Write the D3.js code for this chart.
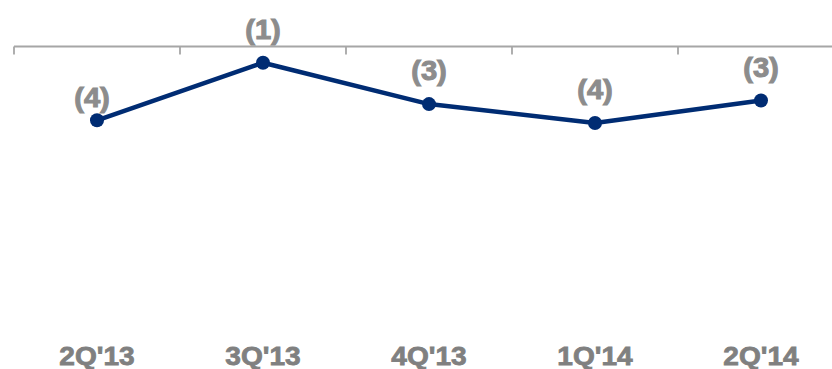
<!DOCTYPE html>
<html>
<head>
<meta charset="utf-8">
<script src="https://cdn.jsdelivr.net/npm/d3@7"></script>
<style>
  body { margin: 0; background: #fff; }
  svg { display: block; }
</style>
</head>
<body>
<div id="chart"></div>
<script>
var width = 832,
    height = 369;

// quarters and values
var quarters = ["2Q'13", "3Q'13", "4Q'13", "1Q'14", "2Q'14"];
var values = [-4.1, -0.9, -3.2, -4.25, -3.0];

var svg = d3.select("#chart")
    .append("svg")
    .attr("width", width)
    .attr("height", height);

var x = d3.scaleBand()
    .domain(quarters)
    .range([14, 14 + 166 * quarters.length])
    .padding(0);

var y = d3.scaleLinear()
    .domain([0, -15])
    .range([46.5, 316.5]);

function labelFormat(d) {
  var r = Math.round(d);
  return r < 0 ? "(" + (-r) + ")" : "" + r;
}

// axis line at zero, ticks between quarters
svg.append("line")
    .attr("x1", x.range()[0])
    .attr("x2", width)
    .attr("y1", y(0))
    .attr("y2", y(0))
    .attr("stroke", "#a6a6a6")
    .attr("stroke-width", 1.8);

svg.selectAll(".tick")
    .data(quarters)
    .enter().append("line")
    .attr("class", "tick")
    .attr("x1", function(d) { return x(d); })
    .attr("x2", function(d) { return x(d); })
    .attr("y1", y(0))
    .attr("y2", y(0) + 8)
    .attr("stroke", "#a6a6a6")
    .attr("stroke-width", 1.8);

var cx = function(d, i) { return x(quarters[i]) + x.bandwidth() / 2; };

var line = d3.line()
    .x(cx)
    .y(function(d) { return y(d); });

svg.append("path")
    .datum(values)
    .attr("d", line)
    .attr("fill", "none")
    .attr("stroke", "#002c73")
    .attr("stroke-width", 4.5)
    .attr("stroke-linejoin", "round");

svg.selectAll(".dot")
    .data(values)
    .enter().append("circle")
    .attr("class", "dot")
    .attr("cx", cx)
    .attr("cy", function(d) { return y(d); })
    .attr("r", 7)
    .attr("fill", "#002c73");

// labels: heavy grey, slightly stretched like the original
svg.selectAll(".val-label")
    .data(values)
    .enter().append("text")
    .attr("class", "val-label")
    .attr("transform", function(d, i) {
      var lx = cx(d, i) - (i === 0 ? 5 : 0);
      var ly = y(d) - (i === 0 ? 13 : 24);
      return "translate(" + lx + "," + ly + ") scale(1.08,1)";
    })
    .attr("text-anchor", "middle")
    .attr("font-family", "'Liberation Sans', Arial, sans-serif")
    .attr("font-weight", "bold")
    .attr("font-size", 27)
    .attr("fill", "#8c8c8c")
    .attr("stroke", "#8c8c8c")
    .attr("stroke-width", 1)
    .text(function(d) { return labelFormat(d); });

svg.selectAll(".cat-label")
    .data(quarters)
    .enter().append("text")
    .attr("class", "cat-label")
    .attr("transform", function(d) {
      return "translate(" + (x(d) + x.bandwidth() / 2) + ",365) scale(1.08,1)";
    })
    .attr("text-anchor", "middle")
    .attr("font-family", "'Liberation Sans', Arial, sans-serif")
    .attr("font-weight", "bold")
    .attr("font-size", 26)
    .attr("fill", "#808080")
    .attr("stroke", "#808080")
    .attr("stroke-width", 0.8)
    .text(function(d) { return d; });
</script>
</body>
</html>
